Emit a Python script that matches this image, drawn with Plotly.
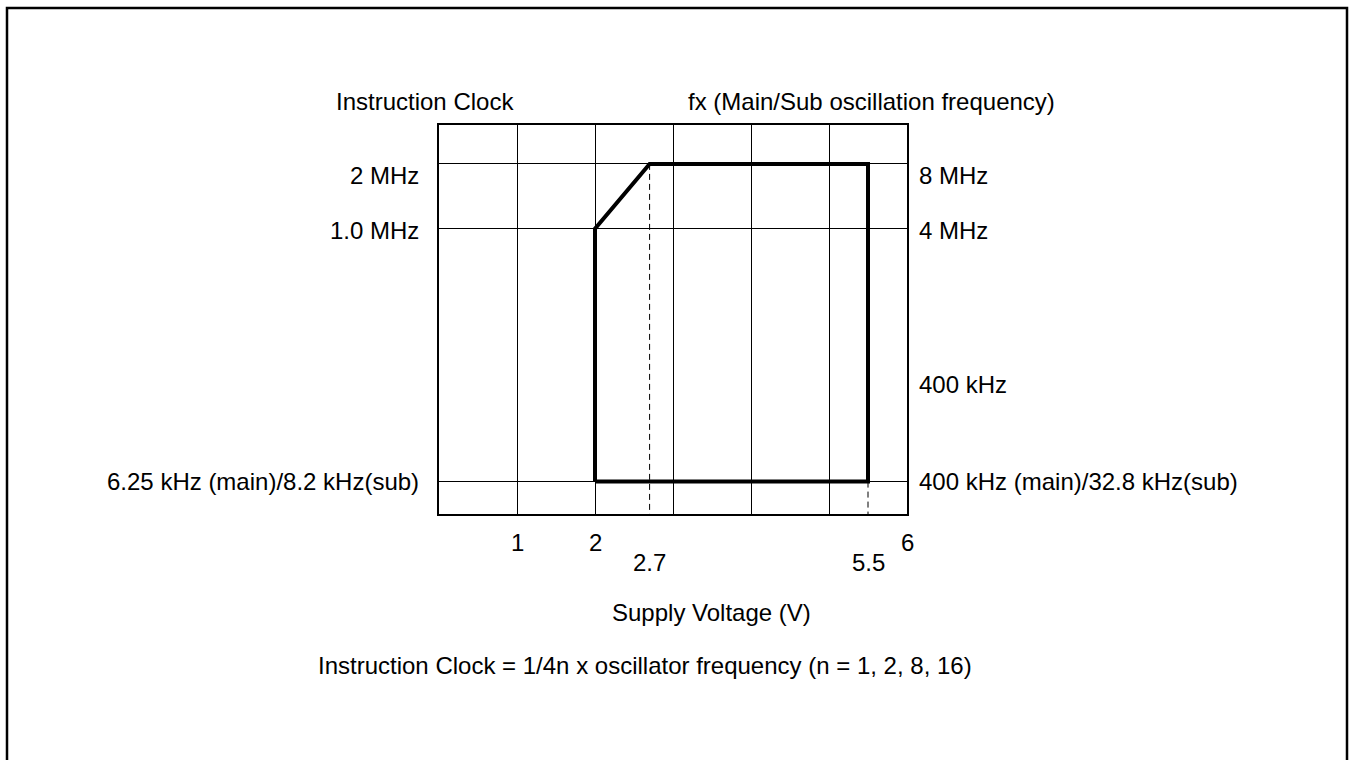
import plotly.graph_objects as go

# Supply voltage grid (V) and labelled voltages
voltage_grid = [0, 1, 2, 3, 4, 5, 6]
voltage_ticks = [1, 2, 6]
voltage_marks = [2.7, 5.5]

# Frequency levels on a schematic vertical scale
level_min = 1.0      # 400 kHz (main) / 32.8 kHz (sub)
level_4mhz = 8.8     # 4 MHz fx / 1.0 MHz instruction clock
level_8mhz = 10.8    # 8 MHz fx / 2 MHz instruction clock
level_mid = 4.0      # 400 kHz
level_top = 12.0

left_labels = ["2 MHz", "1.0 MHz", "6.25 kHz (main)/8.2 kHz(sub)"]
right_labels = ["8 MHz", "4 MHz", "400 kHz", "400 kHz (main)/32.8 kHz(sub)"]

# Operating region boundary
region_v = [2.0, 2.0, 2.7, 5.5, 5.5, 2.0]
region_f = [level_min, level_4mhz, level_8mhz, level_8mhz, level_min, level_min]

FONT = "Liberation Sans, Arial, Helvetica, sans-serif"
FS = 24

W, H = 1353, 760
L, R, T, B = 439, 907, 125, 514


def px_x(px):
    return (px - L) / (R - L)


def px_y(py):
    return (B - py) / (B - T)


fig = go.Figure()

fig.add_trace(go.Scatter(
    x=region_v, y=region_f, mode="lines",
    line=dict(color="black", width=4), hoverinfo="skip", showlegend=False,
))

# Dashed drop lines for 2.7 V and 5.5 V
fig.add_trace(go.Scatter(
    x=[voltage_marks[0], voltage_marks[0]], y=[level_8mhz, -1.0], mode="lines",
    line=dict(color="black", width=1, dash="6px,4px"), hoverinfo="skip",
    showlegend=False, cliponaxis=False,
))
fig.add_trace(go.Scatter(
    x=[voltage_marks[1], voltage_marks[1]], y=[level_min, -1.0], mode="lines",
    line=dict(color="black", width=1, dash="6px,4px"), hoverinfo="skip",
    showlegend=False, cliponaxis=False,
))

annotations = []
txt = dict(font=dict(family=FONT, size=FS, color="black"), showarrow=False)

# Left-hand (instruction clock) labels
for lab, lv, ys in zip(left_labels, [level_8mhz, level_4mhz, level_min], [-12, -2, 0]):
    annotations.append(dict(text=lab, x=0, y=lv, xref="x", yref="y",
                            xanchor="right", yanchor="middle", xshift=-18, yshift=ys, **txt))
# Right-hand (fx) labels
for lab, lv, ys in zip(right_labels, [level_8mhz, level_4mhz, level_mid, level_min],
                       [-12, -2, 0, 0]):
    annotations.append(dict(text=lab, x=6, y=lv, xref="x", yref="y",
                            xanchor="left", yanchor="middle", xshift=10, yshift=ys, **txt))

# Voltage tick labels
for v in voltage_ticks:
    annotations.append(dict(text=str(v), x=v, y=0, xref="x", yref="y",
                            xanchor="center", yanchor="middle", yshift=-28, **txt))
for v in voltage_marks:
    annotations.append(dict(text=str(v), x=v, y=0, xref="x", yref="y",
                            xanchor="center", yanchor="middle", yshift=-48, **txt))

# Titles and notes
annotations.append(dict(text="Instruction Clock", x=px_x(334), y=px_y(101),
                        xref="paper", yref="paper", xanchor="left", yanchor="middle", **txt))
annotations.append(dict(text="fx (Main/Sub oscillation frequency)", x=px_x(686), y=px_y(101),
                        xref="paper", yref="paper", xanchor="left", yanchor="middle", **txt))
annotations.append(dict(text="Supply Voltage (V)", x=px_x(610), y=px_y(612),
                        xref="paper", yref="paper", xanchor="left", yanchor="middle", **txt))
annotations.append(dict(text="Instruction Clock = 1/4n x oscillator frequency (n = 1, 2, 8, 16)",
                        x=px_x(316), y=px_y(665), xref="paper", yref="paper",
                        xanchor="left", yanchor="middle", **txt))

fig.update_layout(
    width=W, height=H,
    margin=dict(l=L, r=W - R, t=T, b=H - B, pad=0),
    paper_bgcolor="white", plot_bgcolor="white",
    annotations=annotations,
    xaxis=dict(range=[0, 6], tickvals=voltage_grid, showticklabels=False, ticks="",
               showgrid=True, gridcolor="black", gridwidth=1.4, zeroline=False,
               showline=True, linecolor="black", linewidth=2, mirror=True, fixedrange=True),
    yaxis=dict(range=[0, level_top], tickvals=[level_min, level_4mhz, level_8mhz],
               showticklabels=False, ticks="", showgrid=True, gridcolor="black", gridwidth=1.4,
               zeroline=False, showline=True, linecolor="black", linewidth=2, mirror=True,
               fixedrange=True),
    shapes=[dict(type="rect", xref="paper", yref="paper",
                 x0=px_x(7), x1=px_x(1347), y0=px_y(800), y1=px_y(8),
                 line=dict(color="black", width=2.5), layer="below")],
)

fig.write_html("out.html")
